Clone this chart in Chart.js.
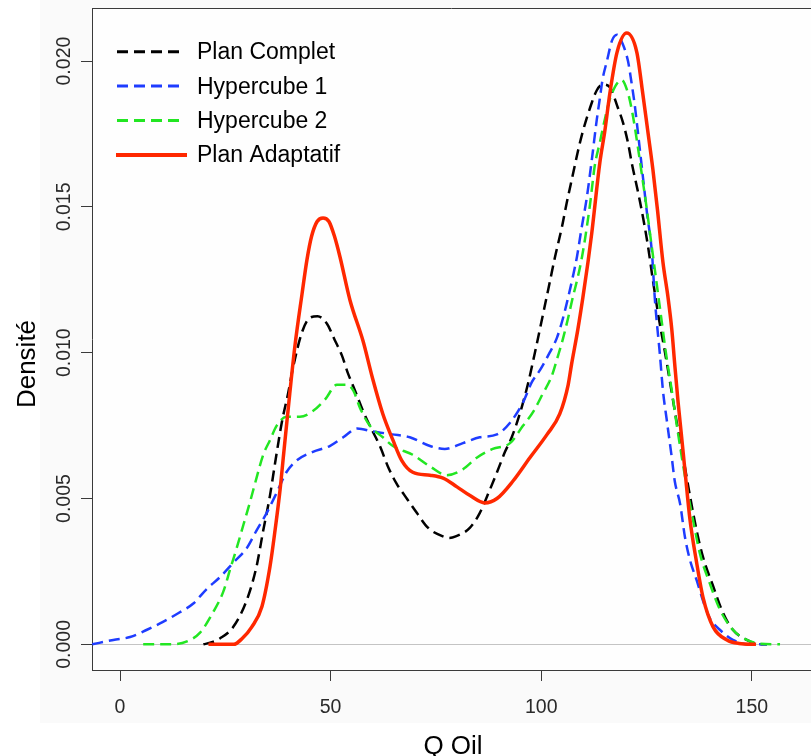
<!DOCTYPE html>
<html><head><meta charset="utf-8">
<script src="https://cdn.jsdelivr.net/npm/chart.js@4.4.1/dist/chart.umd.min.js"></script>
<style>html,body{margin:0;padding:0;background:#fff;overflow:hidden}</style>
</head><body>
<canvas id="c" width="811" height="756"></canvas>
<script>
// ---- data ----
const seriesNames = ["Plan Complet", "Hypercube 1", "Hypercube 2", "Plan Adaptatif"];

const planCompletX = [19.8,22,23.7,26.9,30.1,32.4,34,35.6,36.8,38.4,39.9,41.1,43.2,45.1,46.9,49.1,51,52.7,54.1,55.8,57.7,59.3,61.7,63.6,65.7,67.6,70.5,73.1,76.7,78.2,79.7,83.1,85.4,87.8,89.5,91.4,93,94.9,96.8,98.5,100.4,102,103.3,104.9,106,107.5,108.7,109.9,111.6,113.2,114.6,116.3,118.2,119.4,120.6,121.5,122.7,123.7,125.3,126.5,127.9,129.4,130.8,132.3,133.6,135.3,136.9,138.4,140.8,143.1,145.5,148.8,151.9,153.6];
const planCompletY = [0,0.00008,0.0002,0.0006,0.00152,0.00266,0.0039,0.0051,0.0062,0.0076,0.0086,0.0095,0.0107,0.0112,0.01125,0.0110,0.01043,0.0099,0.0093,0.0087,0.0080,0.0075,0.0068,0.0061,0.0055,0.0051,0.0045,0.0040,0.0037,0.00365,0.0037,0.0040,0.0045,0.0053,0.0059,0.0066,0.0071,0.0079,0.0089,0.0100,0.0113,0.0124,0.0133,0.0143,0.0151,0.0161,0.0169,0.0176,0.0184,0.0190,0.0192,0.0191,0.0184,0.0179,0.0172,0.0165,0.0157,0.0150,0.0137,0.0125,0.0112,0.0100,0.0088,0.0075,0.0065,0.0051,0.0039,0.0030,0.0020,0.0011,0.0005,0.00015,0,0];

const hyper1X = [-6.6,-1.6,2.4,6.4,10.2,14.2,17.4,20.6,23.7,26.9,30.1,32.4,34.8,37.2,39.5,41.9,45.8,49.8,53,56.3,60.1,64.6,68.8,73.6,77.1,81.4,85.4,89.5,92.6,95.7,97.8,99.7,102,103.7,105.2,106.4,107.5,108.5,109.5,110.8,112,113.2,113.9,114.6,115.6,116.8,118,119.3,120.6,121.4,122.2,123,123.7,124.4,125.1,126.3,127,128.2,128.9,129.8,131,131.7,133,134.1,135.3,136.9,138.4,140,142.4,145.5,149.5,153.6];
const hyper1Y = [0,0.00015,0.00025,0.0005,0.00077,0.0011,0.0014,0.0019,0.0023,0.0028,0.0033,0.0039,0.0045,0.0052,0.0059,0.0063,0.0066,0.0068,0.0071,0.0074,0.0073,0.0072,0.0071,0.0068,0.0067,0.0069,0.0071,0.0072,0.0076,0.0083,0.0090,0.0094,0.0100,0.0105,0.0112,0.0119,0.0126,0.0133,0.0142,0.0153,0.0166,0.0180,0.0187,0.0194,0.0200,0.0207,0.0209,0.0206,0.0200,0.0193,0.0185,0.0175,0.0166,0.0157,0.0148,0.0134,0.0118,0.0099,0.0087,0.0077,0.0064,0.0056,0.0048,0.0037,0.0029,0.0022,0.0015,0.0009,0.0005,0.00015,0,0];

const hyper2X = [5.5,12,15.9,19,22.1,24.5,26.1,27.7,29.3,30.9,32.4,34,35.6,37.2,39.5,42.7,45.8,48.7,51.5,53.9,55.4,57,59.3,62.4,64.8,69.5,73.6,77.6,81.4,84.7,88.5,92.6,95.7,98.2,100.4,102.5,104,105.2,106.4,107.5,108.7,109.7,110.4,111.6,112.7,113.9,115.1,116.3,119.1,120.6,121.8,123,124,125,126,127.2,128.4,129.6,131,132.2,133.4,134.8,136,137.7,140,142.4,145.5,148.8,152,156.7];
const hyper2Y = [0,0,0.0001,0.0004,0.0011,0.0018,0.00255,0.0033,0.0041,0.0049,0.0057,0.0065,0.0070,0.0075,0.0078,0.0078,0.0080,0.0084,0.0089,0.0089,0.0087,0.0081,0.0075,0.0071,0.0068,0.0065,0.0061,0.0058,0.0060,0.0064,0.0067,0.0069,0.0075,0.0080,0.0086,0.0092,0.0099,0.0105,0.0112,0.0119,0.0126,0.0133,0.0139,0.0151,0.0164,0.0172,0.0180,0.0187,0.01935,0.0189,0.0181,0.0170,0.0160,0.0150,0.0139,0.0126,0.0113,0.0100,0.0087,0.0075,0.0064,0.0052,0.0043,0.0031,0.0021,0.0012,0.0005,0.00015,0.00002,0];

const adaptX = [21,27,29,31.3,33.7,35.6,36.8,38,38.9,40.3,41.5,43.2,44.4,45.5,46.8,48.2,49.6,50.9,52.2,54.6,57.7,60,62.4,64.8,66.9,69.5,73.6,76.7,80,83.1,86.6,89.5,93.3,97.3,101.4,104.4,106.4,107.2,108.7,109.9,111.1,112,113.9,115.1,116.3,118,120.3,122.7,124.1,125.3,126.5,127.6,128.9,130.1,131,131.7,132.5,133.2,134.1,135.3,136.9,138.4,140.8,144.1,147,151];
const adaptY = [0,0,0.0002,0.0006,0.0013,0.00266,0.0039,0.0053,0.0066,0.0086,0.0102,0.0120,0.0132,0.0140,0.0145,0.01462,0.0145,0.0140,0.0133,0.0118,0.0104,0.0091,0.0079,0.0070,0.0063,0.0059,0.0058,0.0057,0.0054,0.0051,0.00485,0.0050,0.0056,0.0064,0.0072,0.0079,0.0089,0.0096,0.0108,0.0119,0.0131,0.0141,0.0165,0.0176,0.0189,0.0203,0.02096,0.0203,0.0189,0.0176,0.0163,0.0149,0.0131,0.0119,0.0108,0.0096,0.0083,0.0073,0.0060,0.0043,0.0028,0.00162,0.0006,0.00015,0.00003,0];

const xTickValues = [0, 50, 100, 150];
const xTickLabels = ["0", "50", "100", "150"];
const yTickValues = [0, 0.005, 0.010, 0.015, 0.020];
const yTickLabels = ["0.000", "0.005", "0.010", "0.015", "0.020"];
const xTitle = "Q Oil";
const yTitle = "Densité";

// ---- styles ----
const FONT = "'Liberation Sans', Arial, sans-serif";
const AXIS_COLOR = '#3a3a3a';
const styles = [
  { color: '#000000', width: 2.5, dash: [11, 6] },
  { color: '#1e3cff', width: 2.5, dash: [11, 6] },
  { color: '#22e622', width: 2.5, dash: [11, 6] },
  { color: '#ff2800', width: 3.5, dash: [] }
];
const pts = (xs, ys) => xs.map((x, i) => ({ x: x, y: ys[i] }));
const seriesData = [pts(planCompletX, planCompletY), pts(hyper1X, hyper1Y), pts(hyper2X, hyper2Y), pts(adaptX, adaptY)];
const drawOrder = [3, 2, 1, 0]; // lower = drawn on top

const bgPlugin = {
  id: 'bg',
  beforeDraw(chart) {
    const ctx = chart.ctx, a = chart.chartArea;
    ctx.save();
    ctx.fillStyle = '#ffffff';
    ctx.fillRect(0, 0, chart.width, chart.height);
    ctx.fillStyle = '#fafafa';
    ctx.fillRect(40, 0, chart.width - 40, 723);
    ctx.fillStyle = '#fefefe';
    ctx.fillRect(a.left, a.top, a.right - a.left, a.bottom - a.top);
    ctx.restore();
  }
};

const decoPlugin = {
  id: 'deco',
  afterDraw(chart) {
    const ctx = chart.ctx, a = chart.chartArea;
    const xs = chart.scales.x, ys = chart.scales.y;
    ctx.save();
    // top frame line
    ctx.strokeStyle = AXIS_COLOR; ctx.lineWidth = 1;
    ctx.beginPath(); ctx.moveTo(a.left, Math.round(a.top) + 0.5); ctx.lineTo(a.right, Math.round(a.top) + 0.5); ctx.stroke();
    // x tick labels
    ctx.fillStyle = '#2a2a2a';
    ctx.font = '19.5px ' + FONT;
    ctx.textAlign = 'center'; ctx.textBaseline = 'alphabetic';
    xTickValues.forEach((v, i) => ctx.fillText(xTickLabels[i], xs.getPixelForValue(v), 713));
    // y tick labels (rotated)
    yTickValues.forEach((v, i) => {
      ctx.save();
      ctx.translate(70, ys.getPixelForValue(v));
      ctx.rotate(-Math.PI / 2);
      ctx.fillText(yTickLabels[i], 0, 0);
      ctx.restore();
    });
    // axis titles
    ctx.fillStyle = '#000';
    ctx.font = '26px ' + FONT;
    ctx.fillText(xTitle, 453, 754);
    ctx.save();
    ctx.translate(35, 364);
    ctx.rotate(-Math.PI / 2);
    ctx.fillText(yTitle, 0, 0);
    ctx.restore();
    // legend
    ctx.font = '23px ' + FONT;
    ctx.textAlign = 'left';
    seriesNames.forEach((name, i) => {
      const y = 51.7 + i * 34.4;
      const st = styles[i];
      ctx.strokeStyle = st.color; ctx.lineWidth = st.width + 0.5;
      ctx.setLineDash(st.dash);
      ctx.beginPath();
      if (st.dash.length) { ctx.moveTo(117, y); ctx.lineTo(183, y); }
      else { ctx.moveTo(116, y); ctx.lineTo(187, y); }
      ctx.stroke();
      ctx.setLineDash([]);
      ctx.fillStyle = '#000';
      ctx.fillText(name, 197, y + 7.5);
    });
    ctx.restore();
  }
};

new Chart(document.getElementById('c'), {
  type: 'line',
  data: {
    datasets: seriesData.map((d, i) => ({
      label: seriesNames[i],
      data: d,
      borderColor: styles[i].color,
      borderWidth: styles[i].width,
      borderDash: styles[i].dash,
      pointRadius: 0,
      fill: false,
      cubicInterpolationMode: 'monotone',
      order: drawOrder[i]
    }))
  },
  options: {
    responsive: false,
    animation: false,
    events: [],
    layout: { padding: { top: 8, left: 0, right: 0, bottom: 0 } },
    plugins: { legend: { display: false }, tooltip: { enabled: false }, title: { display: false } },
    scales: {
      x: {
        type: 'linear', min: -6.65, max: 164.05,
        afterBuildTicks: s => { s.ticks = xTickValues.map(v => ({ value: v })); },
        afterFit: s => { s.height = 86; },
        ticks: { display: false },
        grid: { color: 'rgba(0,0,0,0)', drawOnChartArea: false, drawTicks: true, tickLength: 11, tickColor: AXIS_COLOR, tickWidth: 1 },
        border: { display: true, color: AXIS_COLOR, width: 1 }
      },
      y: {
        type: 'linear', min: -0.00088, max: 0.02182,
        afterBuildTicks: s => { s.ticks = yTickValues.map(v => ({ value: v })); },
        afterFit: s => { s.width = 92; },
        ticks: { display: false },
        grid: {
          color: ctx => (ctx.tick && ctx.tick.value === 0) ? '#c4c4c4' : 'rgba(0,0,0,0)',
          drawOnChartArea: true, drawTicks: true, tickLength: 11, tickColor: AXIS_COLOR, tickWidth: 1, lineWidth: 1
        },
        border: { display: true, color: AXIS_COLOR, width: 1 }
      }
    }
  },
  plugins: [bgPlugin, decoPlugin]
});
</script>
</body></html>
